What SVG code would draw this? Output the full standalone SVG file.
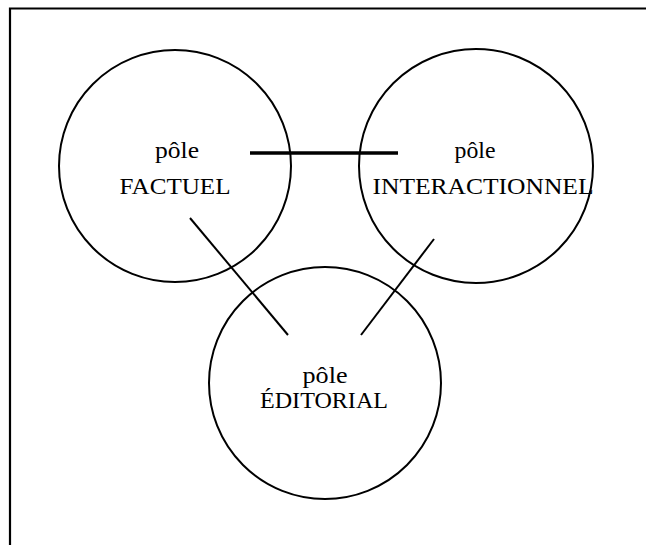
<svg xmlns="http://www.w3.org/2000/svg" width="646" height="545" viewBox="0 0 646 545">
<style>
.frame{fill:none;stroke:#000;stroke-width:2.2}
.pole{fill:none;stroke:#000;stroke-width:2}
.link{stroke:#000;stroke-width:2;fill:none}
.thick{stroke:#000;stroke-width:3.6;fill:none}
text{font-family:"Liberation Serif","Times New Roman",serif;font-size:23px;fill:#000;text-anchor:middle}
</style>
<rect width="646" height="545" fill="#fff"/>
<path class="frame" d="M10,545 V8.5 H646"/>
<g id="factuel">
<circle class="pole" cx="175" cy="166" r="116"/>
<text x="177" y="158" textLength="44" lengthAdjust="spacingAndGlyphs">pôle</text>
<text x="175" y="194" textLength="111" lengthAdjust="spacingAndGlyphs">FACTUEL</text>
</g>
<g id="interactionnel">
<circle class="pole" cx="476" cy="166" r="117"/>
<text x="475" y="158" textLength="41" lengthAdjust="spacingAndGlyphs">pôle</text>
<text x="483" y="194" textLength="221" lengthAdjust="spacingAndGlyphs">INTERACTIONNEL</text>
</g>
<g id="editorial">
<circle class="pole" cx="325" cy="383" r="116"/>
<text x="325" y="383" textLength="45" lengthAdjust="spacingAndGlyphs">pôle</text>
<text x="324" y="408" textLength="128" lengthAdjust="spacingAndGlyphs">ÉDITORIAL</text>
</g>
<g id="connectors">
<line class="thick" x1="250" y1="153" x2="398" y2="153"/>
<line class="link" x1="190" y1="218" x2="288" y2="335"/>
<line class="link" x1="434" y1="239" x2="361" y2="335"/>
</g>
</svg>
